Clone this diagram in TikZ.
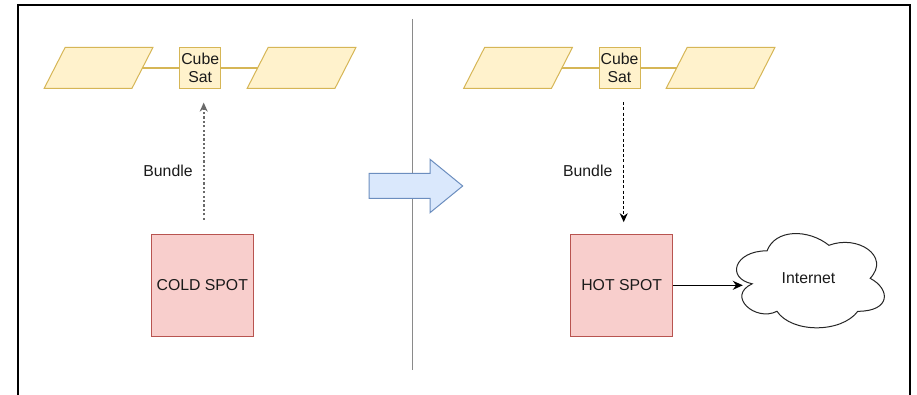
\documentclass[tikz,border=0pt]{standalone}
\usepackage{fontspec}
\setmainfont{Liberation Sans}
\usetikzlibrary{arrows.meta}
\definecolor{yfill}{HTML}{FFF2CC}
\definecolor{ydraw}{HTML}{D6B656}
\definecolor{rfill}{HTML}{F8CECC}
\definecolor{rdraw}{HTML}{B85450}
\definecolor{bfill}{HTML}{DAE8FC}
\definecolor{bdraw}{HTML}{6C8EBF}
\definecolor{txt}{HTML}{1A1A1A}
\definecolor{divgray}{HTML}{8A8A8A}
\definecolor{dotgray}{HTML}{6A6A6A}
\begin{document}
\begin{tikzpicture}[x=1pt,y=-1pt,
  every node/.style={font=\fontsize{15.8}{18.7}\selectfont, text=txt},
  parabox/.style={rectangle, minimum width=108.4pt, minimum height=40.6pt, inner sep=0pt},
  parashape/.style={draw=ydraw, fill=yfill, line width=1pt, line join=miter},
  sat/.style={rectangle, draw=ydraw, fill=yfill, line width=1pt,
    minimum width=41pt, minimum height=40.6pt, inner sep=0pt, align=center},
  spot/.style={rectangle, draw=rdraw, fill=rfill, line width=1pt,
    minimum size=102pt, inner sep=0pt},
  link/.style={draw=ydraw, line width=1.2pt},
  bundleup/.style={draw=dotgray, line width=1.6pt, dash pattern=on 2.2pt off 2.2pt,
    -{Stealth[length=9pt,width=8pt]}},
  bundledown/.style={draw=black, line width=1.1pt, dash pattern=on 3pt off 2.2pt,
    -{Stealth[length=9pt,width=8pt]}},
  netarrow/.style={draw=black, line width=1.3pt, -{Stealth[length=10pt,width=9pt]}},
  frame/.style={draw=black, line width=1.7pt},
  divider/.style={draw=divgray, line width=1pt},
  bigarrow/.style={draw=bdraw, fill=bfill, line width=1pt, line join=miter},
  cloudline/.style={draw=black!85, line width=1pt}
]
\useasboundingbox (0,0) rectangle (917,395);
\fill[white] (0,0) rectangle (917,395);

% frame (open at bottom)
\coordinate (fbl) at (17.7,395);
\coordinate (ftl) at (17.7,5);
\coordinate (ftr) at (909.7,5);
\coordinate (fbr) at (909.7,395);
\draw[frame] (fbl) -- (ftl) -- (ftr) -- (fbr);

% divider
\coordinate (dtop) at (412.7,19);
\coordinate (dbot) at (412.7,370);
\draw[divider] (dtop) -- (dbot);

% big transition arrow
\draw[bigarrow] (369,173.3) -- (430,173.3) -- (430,159.3) -- (462.7,186)
  -- (430,212.7) -- (430,198.3) -- (369,198.3) -- cycle;

% parallelogram drawing helper via named boxes
\newcommand{\drawpara}[1]{%
  \draw[parashape] (#1.south west) -- ([xshift=21pt]#1.north west)
    -- (#1.north east) -- ([xshift=-21pt]#1.south east) -- cycle;}

% ---- left scene ----
\node[parabox] (p1) at (98.5,68) {};
\node[parabox] (p2) at (301.5,68) {};
\drawpara{p1}
\drawpara{p2}
\node[sat] (cs1) at (200.2,68) {Cube\\Sat};
\draw[link] ([xshift=-10.5pt]p1.east) -- (cs1.west);
\draw[link] (cs1.east) -- ([xshift=10.5pt]p2.west);

\node[spot] (cold) at (202.3,285.3) {COLD SPOT};
\node (bl) at (168,170.7) {Bundle};
\draw[bundleup] ([xshift=1.4pt,yshift=14pt]cold.north) -- ([xshift=3.5pt,yshift=-13.8pt]cs1.south);

% ---- right scene ----
\node[parabox] (p3) at (518,68) {};
\node[parabox] (p4) at (720.5,68) {};
\drawpara{p3}
\drawpara{p4}
\node[sat] (cs2) at (619.5,68) {Cube\\Sat};
\draw[link] ([xshift=-10.5pt]p3.east) -- (cs2.west);
\draw[link] (cs2.east) -- ([xshift=10.5pt]p4.west);

\node[spot] (hot) at (621.7,285.3) {HOT SPOT};
\node (br) at (587.7,170.7) {Bundle};
\draw[bundledown] ([xshift=4.2pt,yshift=-13.4pt]cs2.south) -- ([xshift=2pt,yshift=11.6pt]hot.north);

% cloud
\node[minimum width=165pt, minimum height=110pt, inner sep=0pt] (cloud) at (808.5,278.5) {Internet};
\begin{scope}[shift={(cloud.north west)}, x=165pt, y=-110pt]
\draw[cloudline] (.25,.25) .. controls (.05,.25) and (0,.5) .. (.16,.55)
  .. controls (0,.66) and (.18,.9) .. (.31,.8)
  .. controls (.4,1) and (.7,1) .. (.8,.8)
  .. controls (1,.8) and (1,.6) .. (.875,.5)
  .. controls (1,.3) and (.8,.1) .. (.625,.2)
  .. controls (.5,.05) and (.3,.05) .. (.25,.25) -- cycle;
\end{scope}
\draw[netarrow] (hot.east) -- ([xshift=17pt]hot.east -| cloud.west);
\end{tikzpicture}
\end{document}
